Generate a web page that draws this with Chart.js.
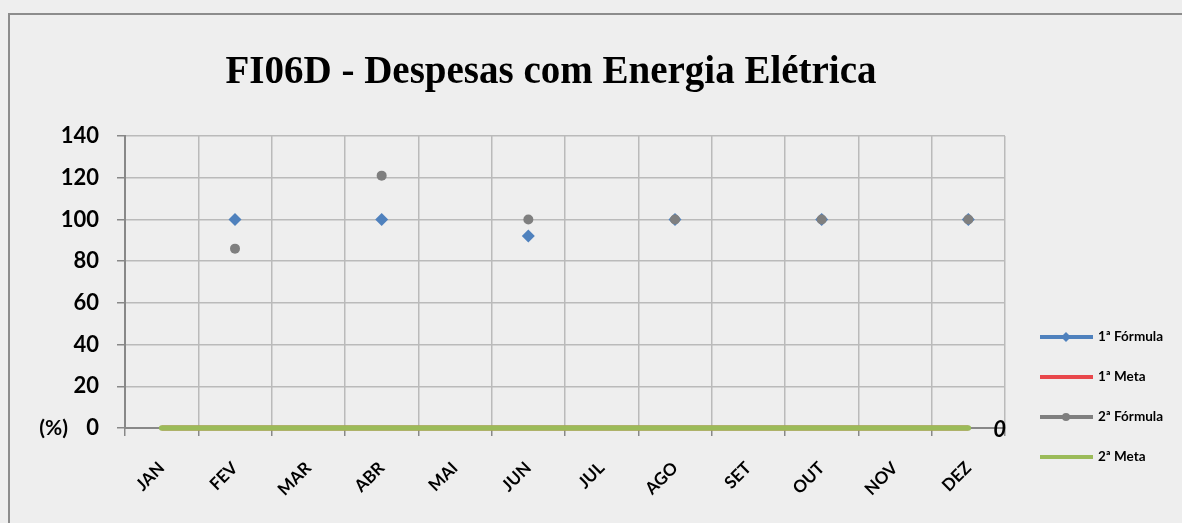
<!DOCTYPE html>
<html lang="pt">
<head>
    <meta charset="UTF-8">
    <title>FI06D - Despesas com Energia Elétrica</title>
    <script src="https://cdn.jsdelivr.net/npm/chart.js"></script>
    <style>
        html, body { margin: 0; padding: 0; background: #eeeeee; }
        canvas { display: block; }
    </style>
</head>
<body>
    <canvas id="myChart" width="1182" height="523"></canvas>

    <script type="text/javascript">
        // data
        const months = ['JAN', 'FEV', 'MAR', 'ABR', 'MAI', 'JUN', 'JUL', 'AGO', 'SET', 'OUT', 'NOV', 'DEZ'];
        const formula1 = [null, 100, null, 100, null, 92, null, 100, null, 100, null, 100];
        const meta1 = [0, 0, 0, 0, 0, 0, 0, 0, 0, 0, 0, 0];
        const formula2 = [null, 86, null, 121, null, 100, null, 100, null, 100, null, 100];
        const meta2 = [0, 0, 0, 0, 0, 0, 0, 0, 0, 0, 0, 0];
        const yTicks = [0, 20, 40, 60, 80, 100, 120, 140];
        const chartTitle = 'FI06D - Despesas com Energia Elétrica';
        const unitLabel = '(%)';

        Chart.defaults.font.family = 'Lato';
        const ctx = document.getElementById('myChart');

        // background, frame, title, legend and extra labels
        const decorations = {
            id: 'decorations',
            beforeDraw(chart) {
                const c = chart.ctx;
                c.save();
                c.fillStyle = '#eeeeee';
                c.fillRect(0, 0, chart.width, chart.height);
                c.strokeStyle = '#8c8c8c';
                c.lineWidth = 2;
                c.strokeRect(9, 14, chart.width + 20, chart.height + 20);
                c.restore();
            },
            afterDraw(chart) {
                const c = chart.ctx;
                const y = chart.scales.y;
                c.save();
                c.fillStyle = '#000';
                c.font = 'bold 39px "Liberation Serif"';
                c.textAlign = 'center';
                c.textBaseline = 'alphabetic';
                c.fillText(chartTitle, 551, 83);

                c.font = 'bold 21px Lato';
                c.textAlign = 'right';
                c.textBaseline = 'middle';
                c.fillText(unitLabel, 68, y.getPixelForValue(0));

                // value label at the end of 2ª Meta
                const meta = chart.getDatasetMeta(3);
                const last = meta.data[meta.data.length - 1];
                c.font = 'italic bold 22px Lato';
                c.textAlign = 'left';
                c.fillText(String(meta2[meta2.length - 1]), last.x + 25, last.y + 2);

                // legend
                chart.data.datasets.forEach(function (ds, i) {
                    const ly = 337 + i * 40;
                    c.strokeStyle = ds.borderColor;
                    c.lineWidth = 4;
                    c.beginPath();
                    c.moveTo(1040, ly);
                    c.lineTo(1093, ly);
                    c.stroke();
                    if (ds.pointRadius > 0) {
                        c.fillStyle = ds.pointBackgroundColor;
                        c.beginPath();
                        if (ds.pointStyle === 'rectRot') {
                            c.moveTo(1066, ly - 5);
                            c.lineTo(1071, ly);
                            c.lineTo(1066, ly + 5);
                            c.lineTo(1061, ly);
                        } else {
                            c.arc(1066, ly, 4, 0, Math.PI * 2);
                        }
                        c.fill();
                    }
                    c.fillStyle = '#000';
                    c.font = 'bold 13.5px Lato';
                    c.textAlign = 'left';
                    c.fillText(ds.label, 1098, ly);
                });
                c.restore();
            }
        };

        let myChart = new Chart(ctx, {
            type: 'line',
            data: {
                labels: months,
                datasets: [{
                    label: '1ª Fórmula',
                    data: formula1,
                    borderColor: '#4f81bd',
                    pointBackgroundColor: '#4f81bd',
                    pointBorderWidth: 0,
                    pointStyle: 'rectRot',
                    pointRadius: 6.5,
                    borderWidth: 3,
                    order: 2
                }, {
                    label: '1ª Meta',
                    data: meta1,
                    borderColor: '#e8474b',
                    pointRadius: 0,
                    borderWidth: 5,
                    clip: false,
                    order: 3
                }, {
                    label: '2ª Fórmula',
                    data: formula2,
                    borderColor: '#7f7f7f',
                    pointBackgroundColor: '#7f7f7f',
                    pointBorderWidth: 0,
                    pointStyle: 'circle',
                    pointRadius: 5,
                    borderWidth: 3,
                    order: 0
                }, {
                    label: '2ª Meta',
                    data: meta2,
                    borderColor: '#9bbb59',
                    pointRadius: 0,
                    borderWidth: 5.5,
                    borderCapStyle: 'round',
                    clip: false,
                    order: 1
                }]
            },
            options: {
                responsive: false,
                animation: false,
                layout: {
                    padding: { left: 0, top: 136, right: 177, bottom: 0 }
                },
                plugins: {
                    legend: { display: false },
                    tooltip: { enabled: false }
                },
                scales: {
                    x: {
                        offset: true,
                        grid: { offset: true, color: '#bababa', lineWidth: 1.5, tickColor: '#888', tickLength: 8 },
                        border: { color: '#888', width: 2 },
                        ticks: {
                            color: '#000',
                            font: { size: 17, weight: 'bold' },
                            minRotation: 45,
                            maxRotation: 45,
                            autoSkip: false,
                            padding: 22
                        },
                        afterFit(scale) { scale.height = 95; }
                    },
                    y: {
                        min: yTicks[0],
                        max: yTicks[yTicks.length - 1],
                        grid: { color: '#bababa', lineWidth: 1.5, tickColor: '#888', tickLength: 8 },
                        border: { color: '#888', width: 2 },
                        ticks: {
                            stepSize: yTicks[1] - yTicks[0],
                            color: '#000',
                            font: { size: 22, weight: 'bold' },
                            padding: 18
                        },
                        afterFit(scale) { scale.width = 125; }
                    }
                }
            },
            plugins: [decorations]
        });
    </script>
</body>
</html>
